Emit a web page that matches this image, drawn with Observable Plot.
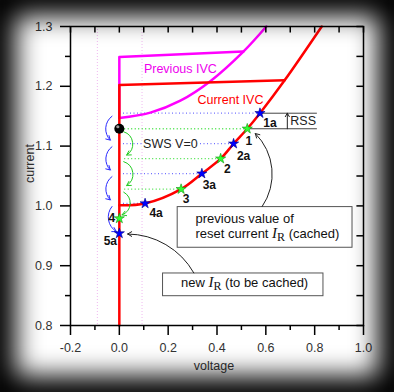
<!DOCTYPE html>
<html><head><meta charset="utf-8">
<script src="https://cdn.jsdelivr.net/npm/d3@7"></script>
<script src="https://cdn.jsdelivr.net/npm/@observablehq/plot@0.6"></script>
<style>
html,body{margin:0;padding:0;background:#000;}
#wrap{position:relative;width:394px;height:392px;background:#fff;overflow:hidden;}
#vig{position:absolute;left:0;top:0;width:394px;height:392px;box-shadow:inset 0 0 26px 16px #000;pointer-events:none;}
</style></head><body>
<div id="wrap"><div id="chart"></div><div id="vig"></div></div>
<script>
// ---- tick labels ----
const xTicks = [-0.2, 0, 0.2, 0.4, 0.6, 0.8, 1.0];
const xTickLabels = ["-0.2", "0.0", "0.2", "0.4", "0.6", "0.8", "1.0"];
const xMinorTicks = [-0.1, 0.1, 0.3, 0.5, 0.7, 0.9];
const yTicks = [0.8, 0.9, 1.0, 1.1, 1.2, 1.3];
const yTickLabels = ["0.8", "0.9", "1.0", "1.1", "1.2", "1.3"];
const yMinorTicks = [0.85, 0.95, 1.05, 1.15, 1.25];

// ---- current IVC (red) ----
const currentV = [0, 0.105, 0.253, 0.338, 0.415, 0.468, 0.524, 0.576, 0.677, 0.829];
const currentI = [1.001, 1.004, 1.028, 1.054, 1.079, 1.104, 1.129, 1.155, 1.21, 1.3];
const currentStepV = [0, 0, 0.677];
const currentStepI = [0.8, 1.202, 1.21];

// ---- previous IVC (magenta) ----
const previousV = [0, 0.127, 0.25, 0.374, 0.508, 0.602];
const previousI = [1.147, 1.156, 1.176, 1.209, 1.258, 1.3];
const previousStepV = [0, 0, 0.508];
const previousStepI = [1.147, 1.249, 1.258];

// ---- points ----
const blueLabels = ["1a", "2a", "3a", "4a", "5a"];
const blueV = [0.576, 0.468, 0.338, 0.1055, 0];
const blueI = [1.155, 1.104, 1.054, 1.004, 0.954];
const greenLabels = ["1", "2", "3", "4"];
const greenV = [0.524, 0.415, 0.253, 0];
const greenI = [1.129, 1.079, 1.028, 0.979];
const ballV = [0];
const ballI = [1.129];

// ---- texts ----
const seriesLabels = ["Previous IVC", "Current IVC"];
const seriesLabelV = [0.25, 0.455];
const seriesLabelI = [1.229, 1.177];
const swsLabel = "SWS V=0";
const rssLabel = "RSS";
const note1Lines = ["previous value of", "reset current I_R (cached)"];
const note2Lines = ["new I_R (to be cached)"];
const xLabel = "voltage";
const yLabel = "current";

// annotation geometry (data units)
const xDomain = [-0.2, 1.0];
const yDomain = [0.8, 1.3];
const guideV = [-0.09, 0.093];
const dotStart = 0.015;
const rssV = [0.579, 0.809];
const rssArrowV = 0.688;
const note1Box = {x1: 0.239, x2: 0.955, y1: 0.930, y2: 0.998};
const note2Box = {x1: 0.179, x2: 0.836, y1: 0.849, y2: 0.887};
const note1TextV = 0.312, note1TextI = [0.979, 0.954];
const note2TextV = 0.513, note2TextI = 0.871;
const innerTickX = 0.027, innerTickY = 0.011;   // inward tick lengths (data units)

// label offsets (px)
const blueOff = [[10, 9.5], [10, 12.5], [7.5, 12], [11, 10], [-9, 7.5]];
const greenOff = [[1.6, 12.5], [6.7, 10], [5, 10], [-7.5, 0]];

const xMap = new Map(xTicks.map((d, i) => [d, xTickLabels[i]]));
const yMap = new Map(yTicks.map((d, i) => [d, yTickLabels[i]]));
const idx = a => a.map((_, i) => i);

// dotted level lines
const blueDots = blueV.slice(0, 4).map((v, i) => ({x1: dotStart, x2: v, y: blueI[i]}));
const greenDots = greenV.slice(0, 3).map((v, i) => ({x1: dotStart + 0.005, x2: v, y: greenI[i]}));

// arcs
const blueArcs = blueI.slice(0, 4).map((l, i) => ({
  x1: -0.030, y1: l - 0.005,
  x2: i < 3 ? -0.037 : -0.012, y2: i < 3 ? blueI[i + 1] + 0.006 : blueI[i + 1] + 0.003
}));
const greenArcs = greenI.slice(0, 3).map((l, i) => ({
  x1: 0.018, y1: l - 0.005,
  x2: i < 2 ? 0.03 : 0.011, y2: greenI[i + 1] + 0.006
}));

const W = 394, H = 392, mL = 70, mR = 31, mT = 26, mB = 67;

const marks = [
  // guides
  Plot.ruleX(guideV, {stroke: "#f0b8f0", strokeWidth: 1, strokeDasharray: "1,2"}),
  Plot.link(blueDots, {x1: "x1", x2: "x2", y1: "y", y2: "y", stroke: "#7070ff", strokeWidth: 1.3, strokeDasharray: "1,2.5"}),
  Plot.link(greenDots, {x1: "x1", x2: "x2", y1: "y", y2: "y", stroke: "#40e040", strokeWidth: 1.3, strokeDasharray: "1,2.5"}),
  // previous IVC
  Plot.line(idx(previousStepV), {x: previousStepV, y: previousStepI, stroke: "#ff00ff", strokeWidth: 2.5}),
  Plot.line(idx(previousV), {x: previousV, y: previousI, stroke: "#ff00ff", strokeWidth: 2.5, curve: "catmull-rom"}),
  // current IVC
  Plot.line(idx(currentStepV), {x: currentStepV, y: currentStepI, stroke: "#ff0000", strokeWidth: 2.5}),
  Plot.line(idx(currentV), {x: currentV, y: currentI, stroke: "#ff0000", strokeWidth: 2.5, curve: "catmull-rom"}),
  // arcs
  Plot.arrow(blueArcs, {x1: "x1", y1: "y1", x2: "x2", y2: "y2", bend: -50, stroke: "#2a2aff", strokeWidth: 1, headLength: 7}),
  Plot.arrow(greenArcs, {x1: "x1", y1: "y1", x2: "x2", y2: "y2", bend: 65, stroke: "#22cc22", strokeWidth: 1, headLength: 7}),
  // text labels
  Plot.text(seriesLabels, {x: seriesLabelV, y: seriesLabelI, text: d => d, fill: (d, i) => i === 0 ? "#ee00ee" : "#ff0000", fontSize: 12.5}),
  Plot.text([swsLabel], {x: [0.209], y: [1.104], text: d => d, fill: "#222", fontSize: 12.5, stroke: "white", strokeWidth: 4, paintOrder: "stroke"}),
  // RSS
  Plot.link([blueI[0], greenI[0]], {x1: (d, i) => i === 0 ? rssV[0] : greenV[0], x2: rssV[1], y1: d => d, y2: d => d, stroke: "#444", strokeWidth: 1}),
  Plot.arrow([0], {x1: rssArrowV, x2: rssArrowV, y1: greenI[0], y2: blueI[0], stroke: "#222", strokeWidth: 1, headLength: 6}),
  Plot.text([rssLabel], {x: [0.753], y: [1.142], text: d => d, fill: "#222", fontSize: 12.5}),
  // stars
  Plot.dot(idx(greenV), {x: greenV, y: greenI, symbol: "star", r: 3.2, fill: "#33ff33", stroke: "#119911", strokeWidth: 0.6}),
  Plot.dot(idx(blueV), {x: blueV, y: blueI, symbol: "star", r: 3.2, fill: "#0000ff", stroke: "#000088", strokeWidth: 0.6}),
  Plot.dot(idx(ballV), {x: ballV, y: ballI, r: 5, fill: "#000"}),
  Plot.dot(idx(ballV), {x: ballV, y: ballI, r: 1.6, fill: "#9a9a9a", dx: -1.5, dy: -2}),
  ...blueLabels.map((t, i) => Plot.text([t], {x: [blueV[i]], y: [blueI[i]], text: d => d, dx: blueOff[i][0], dy: blueOff[i][1], fontWeight: "bold", fontSize: 12, fill: "#111"})),
  ...greenLabels.map((t, i) => Plot.text([t], {x: [greenV[i]], y: [greenI[i]], text: d => d, dx: greenOff[i][0], dy: greenOff[i][1], fontWeight: "bold", fontSize: 12, fill: "#111"})),
  // notes
  Plot.rect([note1Box, note2Box], {x1: "x1", x2: "x2", y1: "y1", y2: "y2", fill: "white", stroke: "#555", strokeWidth: 1}),
  Plot.text(note1Lines, {x: note1TextV, y: (d, i) => note1TextI[i], text: d => d, textAnchor: "start", fontSize: 13, fill: "#111"}),
  Plot.text(note2Lines, {x: note2TextV, y: note2TextI, text: d => d, fontSize: 13, fill: "#111"}),
  Plot.arrow([0], {x1: 0.585, y1: 0.999, x2: 0.557, y2: 1.121, bend: -40, stroke: "#222", strokeWidth: 1, headLength: 7}),
  Plot.arrow([0], {x1: 0.305, y1: 0.888, x2: 0.034, y2: 0.953, bend: -30, stroke: "#222", strokeWidth: 1, headLength: 7}),
  // axes
  Plot.frame({stroke: "#000", strokeWidth: 1.5}),
  Plot.ruleX([...xTicks, ...xMinorTicks], {x: d => d, y1: yDomain[1], y2: yDomain[1] - innerTickY, stroke: "#000", strokeWidth: 1.5}),
  Plot.ruleY([...yTicks, ...yMinorTicks], {y: d => d, x1: xDomain[1], x2: xDomain[1] - innerTickX, stroke: "#000", strokeWidth: 1.5}),
  Plot.axisX(xTicks, {tickSize: 10, tickPadding: 8, tickFormat: d => xMap.get(d), strokeWidth: 1.5, label: null, fill: "#333"}),
  Plot.axisX(xMinorTicks, {tickSize: 5, text: null, strokeWidth: 1.5, label: null}),
  Plot.axisY(yTicks, {tickSize: 10, tickPadding: 8, tickFormat: d => yMap.get(d), strokeWidth: 1.5, label: null, fill: "#333"}),
  Plot.axisY(yMinorTicks, {tickSize: 5, text: null, strokeWidth: 1.5, label: null}),
  Plot.text([xLabel], {frameAnchor: "bottom", dy: 44, dx: -3, text: d => d, fill: "#333", fontSize: 12.5}),
  Plot.text([yLabel], {frameAnchor: "left", rotate: -90, dx: -41, dy: 7, text: d => d, fill: "#333", fontSize: 12.5})
];

const svg = Plot.plot({
  width: W, height: H,
  marginLeft: mL, marginRight: mR, marginTop: mT, marginBottom: mB,
  x: {domain: xDomain},
  y: {domain: yDomain},
  style: {fontFamily: "'Liberation Sans', Arial, sans-serif", fontSize: "12.5px", background: "transparent", color: "#000"},
  marks
});

// render subscripted italic I_R
d3.select(svg).selectAll("text").each(function () {
  if (this.childElementCount === 0 && this.textContent.includes("I_R")) {
    const [a, b] = this.textContent.split("I_R");
    const t = d3.select(this);
    t.text(null);
    t.append("tspan").text(a);
    t.append("tspan").attr("font-family", "'Liberation Serif', 'Times New Roman', serif").attr("font-style", "italic").attr("font-size", "15px").text("I");
    t.append("tspan").attr("font-family", "'Liberation Serif', 'Times New Roman', serif").attr("font-size", "12px").attr("dy", "3").text("R");
    t.append("tspan").attr("dy", "-3").text(b);
  }
});
document.getElementById("chart").appendChild(svg);
</script>
</body></html>
